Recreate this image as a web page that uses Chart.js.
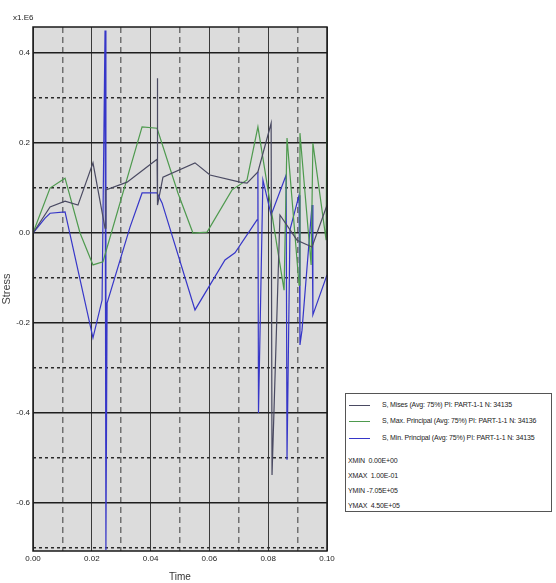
<!DOCTYPE html>
<html>
<head>
<meta charset="utf-8">
<script src="https://cdn.jsdelivr.net/npm/chart.js@4"></script>
<style>
  html, body { margin:0; padding:0; background:#ffffff; }
  #wrap { position:relative; width:556px; height:583px; }
  #c { position:absolute; left:0; top:0; }
  .txt { position:absolute; font-family:'Liberation Sans Narrow','Arial Narrow','Liberation Sans',sans-serif; color:#222; white-space:nowrap; }
  #mult { left:13px; top:13px; font-size:8px; }
  #legend { position:absolute; left:345px; top:393px; width:207px; height:119px; border:1px solid #555; background:#fff; box-sizing:border-box; overflow:hidden; }
  .row { position:absolute; left:3px; font-size:7px; line-height:10px; letter-spacing:-0.15px; }
  .sw { display:inline-block; width:21px; height:0; border-top:1.5px solid #000; vertical-align:middle; margin-right:12px; }
</style>
</head>
<body>
<div id="wrap">
  <canvas id="c" width="556" height="583"></canvas>
  <div class="txt" id="mult">x1.E6</div>
  <div id="legend"></div>
</div>
<script>
// ---- data (time in s, stress in units of 1.E6) ----
const seriesNames = [
  "S, Mises (Avg: 75%) PI: PART-1-1 N: 34135",
  "S, Max. Principal (Avg: 75%) PI: PART-1-1 N: 34136",
  "S, Min. Principal (Avg: 75%) PI: PART-1-1 N: 34135"
];
const seriesColors = ["#4a4a62", "#4e9a4e", "#3636c8"];

const misesTime  = [0, 0.0058, 0.0109, 0.0153, 0.0204, 0.0245, 0.0248, 0.032, 0.0422, 0.0422, 0.0425, 0.0442, 0.0551, 0.0602, 0.0704, 0.0728, 0.0765, 0.081, 0.0813, 0.084, 0.0898, 0.0949, 0.1];
const misesValue = [0, 0.058, 0.071, 0.062, 0.156, 0.011, 0.096, 0.113, 0.164, 0.344, 0.062, 0.124, 0.156, 0.129, 0.113, 0.111, 0.136, 0.244, -0.538, 0.04, -0.016, -0.031, 0.062];

const maxPrTime  = [0, 0.0058, 0.0109, 0.016, 0.0204, 0.0238, 0.0371, 0.0422, 0.0493, 0.0544, 0.0592, 0.0677, 0.0728, 0.0765, 0.0854, 0.0864, 0.0905, 0.0908, 0.0946, 0.0952, 0.0997, 0.1];
const maxPrValue = [0, 0.1, 0.122, 0, -0.071, -0.064, 0.236, 0.233, 0.089, 0, 0.002, 0.096, 0.118, 0.236, -0.127, 0.211, -0.116, 0.222, -0.071, 0.2, -0.016, 0.296];

const minPrTime  = [0, 0.0041, 0.0058, 0.0109, 0.0204, 0.0235, 0.0245, 0.0248, 0.0252, 0.033, 0.0371, 0.0422, 0.0439, 0.0551, 0.0653, 0.0687, 0.0762, 0.0765, 0.0767, 0.0782, 0.081, 0.0861, 0.0864, 0.0874, 0.0905, 0.0908, 0.0915, 0.0949, 0.0952, 0.1];
const minPrValue = [0, 0.033, 0.044, 0.047, -0.233, -0.149, 0.45, -0.705, -0.156, 0.013, 0.089, 0.089, 0.067, -0.171, -0.06, -0.044, 0.029, 0.136, -0.4, 0.118, 0.04, 0.129, -0.504, 0.007, 0.084, -0.249, -0.216, 0.062, -0.182, -0.093];

const xTickValues = [0, 0.01, 0.02, 0.03, 0.04, 0.05, 0.06, 0.07, 0.08, 0.09, 0.1];
const yTickValues = [-0.7, -0.6, -0.5, -0.4, -0.3, -0.2, -0.1, 0, 0.1, 0.2, 0.3, 0.4];
const legendStats = ["XMIN  0.00E+00", "XMAX  1.00E-01", "YMIN -7.05E+05", "YMAX  4.50E+05"];

const xMin = 0, xMax = 0.1, yMin = -0.707, yMax = 0.458;

function zip(t, v) { return t.map((x, i) => ({ x: x, y: v[i] })); }

const isMajorX = v => Math.round(v * 100) % 2 === 0;
const isMajorY = v => Math.abs(Math.round(v * 10)) % 2 === 0;

const bgPlugin = {
  id: 'bg',
  beforeDraw(chart) {
    const a = chart.chartArea, ctx = chart.ctx;
    ctx.save(); ctx.fillStyle = '#dcdcdc';
    ctx.fillRect(a.left, a.top, a.right - a.left, a.bottom - a.top);
    ctx.restore();
  },
  afterDraw(chart) {
    const a = chart.chartArea, ctx = chart.ctx;
    ctx.save(); ctx.strokeStyle = '#1a1a1a'; ctx.lineWidth = 1.5;
    ctx.strokeRect(a.left, a.top, a.right - a.left, a.bottom - a.top);
    ctx.restore();
  }
};

const tickFont = { family: "'Liberation Sans Narrow','Arial Narrow','Liberation Sans',sans-serif", size: 8 };

new Chart(document.getElementById('c'), {
  type: 'line',
  data: {
    datasets: [
      { label: seriesNames[0], data: zip(misesTime, misesValue), borderColor: seriesColors[0] },
      { label: seriesNames[1], data: zip(maxPrTime, maxPrValue), borderColor: seriesColors[1] },
      { label: seriesNames[2], data: zip(minPrTime, minPrValue), borderColor: seriesColors[2] }
    ]
  },
  options: {
    responsive: false,
    animation: false,
    layout: { padding: { left: 0, right: 229, top: 27, bottom: 0 } },
    elements: { line: { borderWidth: 1.2, tension: 0 }, point: { radius: 0 } },
    plugins: { legend: { display: false }, tooltip: { enabled: false } },
    scales: {
      x: {
        type: 'linear', min: xMin, max: xMax,
        afterBuildTicks: s => { s.ticks = xTickValues.map(v => ({ value: v })); },
        afterFit: s => { s.height = 32; },
        ticks: {
          font: tickFont, color: '#222', padding: 3, maxRotation: 0,
          callback: v => isMajorX(v) ? v.toFixed(2) : ''
        },
        grid: {
          drawTicks: false,
          color: c => (c.tick && isMajorX(c.tick.value)) ? '#3a3a3a' : '#707070',
          lineWidth: c => (c.tick && isMajorX(c.tick.value)) ? 1 : 1.5
        },
        border: { display: false, dash: c => (c.tick && !isMajorX(c.tick.value)) ? [6, 4] : [] },
        title: { display: true, text: 'Time', color: '#333', font: { family: "'Liberation Sans','Arial',sans-serif", size: 10 }, padding: { top: 0, bottom: 0 } }
      },
      y: {
        type: 'linear', min: yMin, max: yMax,
        afterBuildTicks: s => { s.ticks = yTickValues.map(v => ({ value: v })); },
        afterFit: s => { s.width = 33; },
        ticks: {
          font: tickFont, color: '#222', padding: 3,
          callback: v => isMajorY(v) ? (Math.abs(v) < 1e-9 ? '0.0' : v.toFixed(1)) : ''
        },
        grid: {
          drawTicks: false,
          color: c => (c.tick && isMajorY(c.tick.value)) ? '#1e1e1e' : '#2a2a2a',
          lineWidth: 1.5
        },
        border: { display: false, dash: c => (c.tick && !isMajorY(c.tick.value)) ? [3, 3] : [] },
        title: { display: true, text: 'Stress', color: '#444', font: { family: "'Liberation Sans','Arial',sans-serif", size: 11 }, padding: { top: 0, bottom: 2 } }
      }
    }
  },
  plugins: [bgPlugin]
});

// legend box (HTML text)
const lg = document.getElementById('legend');
const rowTops = [11, 27, 44, 67, 82, 97, 112];
seriesNames.forEach((name, i) => {
  const d = document.createElement('div');
  d.className = 'row txt';
  d.style.top = (rowTops[i] - 5) + 'px';
  d.innerHTML = '<span class="sw" style="border-top-color:' + seriesColors[i] + '"></span>' + name;
  lg.appendChild(d);
});
legendStats.forEach((s, j) => {
  const d = document.createElement('div');
  d.className = 'row txt';
  d.style.top = (rowTops[3 + j] - 5) + 'px';
  d.style.left = '2px';
  d.textContent = s.replace(/ /g, '\u00a0');
  lg.appendChild(d);
});
</script>
</body>
</html>
